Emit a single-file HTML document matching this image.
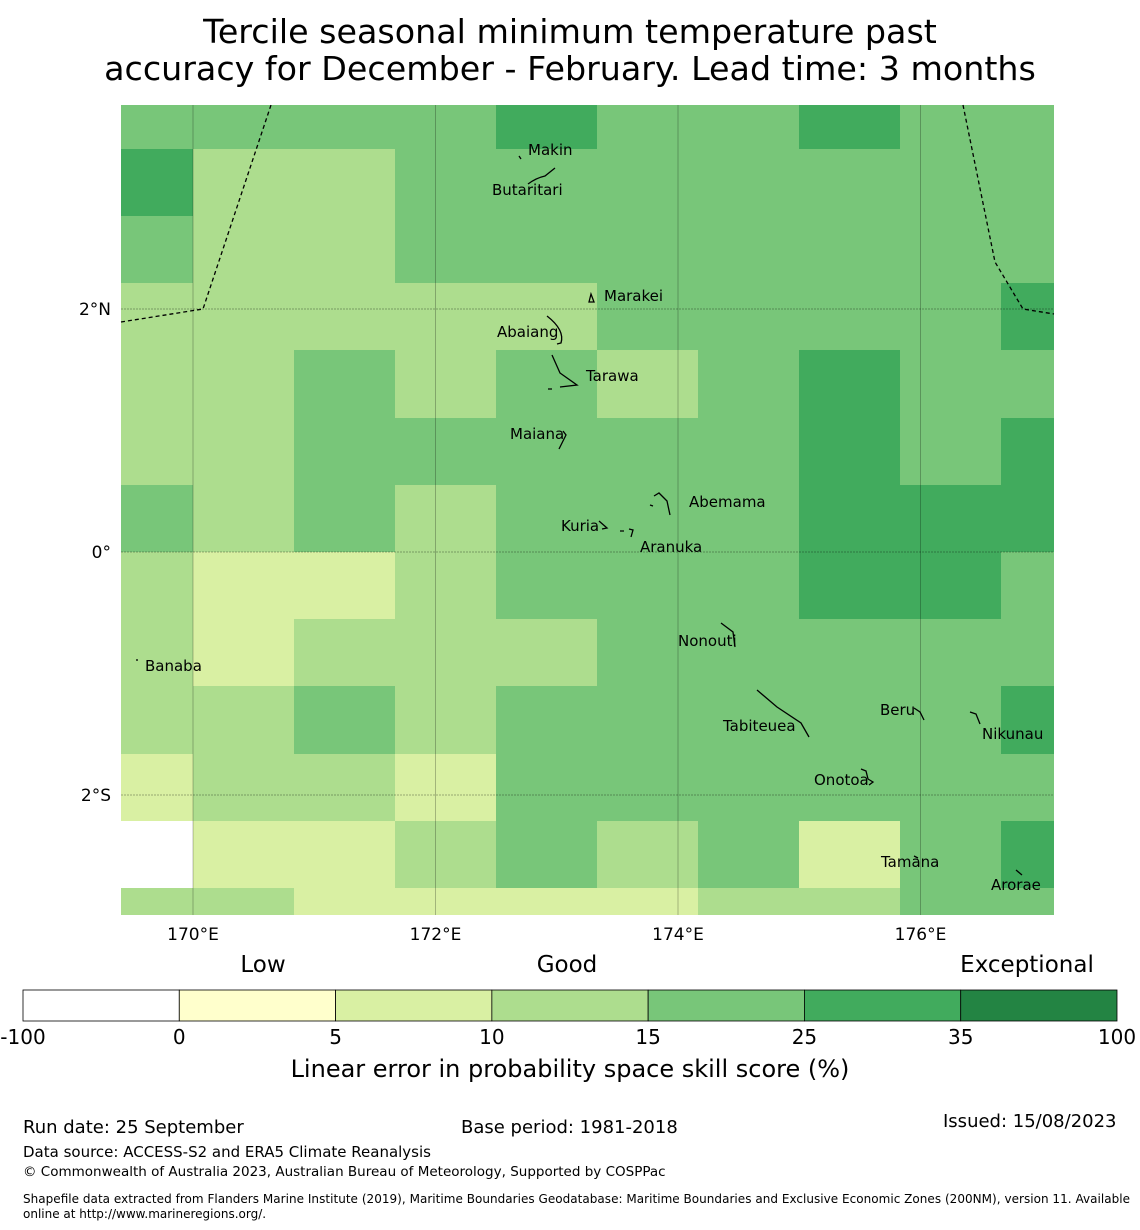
<!DOCTYPE html>
<html><head><meta charset="utf-8"><style>
body{margin:0;background:#fff;width:1140px;height:1230px;overflow:hidden;font-family:"DejaVu Sans","Liberation Sans",sans-serif;}
svg{position:absolute;left:0;top:0}
</style></head><body>
<svg id="s" width="1140" height="1230" xmlns="http://www.w3.org/2000/svg" font-family="DejaVu Sans, Liberation Sans, sans-serif">
<text x="570" y="43" font-size="33.3" text-anchor="middle">Tercile seasonal minimum temperature past</text>
<text x="570" y="80" font-size="33.3" text-anchor="middle">accuracy for December - February. Lead time: 3 months</text>
<g id="cells" shape-rendering="crispEdges"></g>
<g id="grid"></g>
<g id="bnd" fill="none" stroke="#000" stroke-width="1.3" stroke-dasharray="4,3">
<polyline points="121,322 203,309 271,105"/>
<polyline points="963,105 995,262 1023,309 1054,314"/>
</g>
<g id="isl" fill="none" stroke="#000" stroke-width="1.3">
<path d="M519,156 l2,3 M528,184 q8,-6 17,-8 l10,-8"/>
<path d="M589,302 l2,-8 l3,8 z"/>
<path d="M547,316 q18,14 14,27 l-4,1"/>
<path d="M552,355 l8,18 l17,12 l-17,2 M548,389 l4,0"/>
<path d="M563,431 l3,4 l-7,14"/>
<path d="M650,505 l3,1 M654,496 l5,-3 l8,8 l3,14"/>
<path d="M599,521 l8,7 l-5,1 M620,531 l4,0 M629,529 l4,1 l-2,7"/>
<path d="M721,623 l12,9 l2,15"/>
<path d="M757,690 l20,17 l24,16 l8,14"/>
<path d="M914,708 l6,4 l4,8"/>
<path d="M970,712 l6,2 l4,10"/>
<path d="M861,769 l5,2 l2,8 l5,3 l-4,3"/>
<path d="M914,856 l4,2 M1016,870 l6,5"/>
<path d="M136,660 l2,0"/>
</g>
<g font-size="15" fill="#000">
<text x="528" y="155">Makin</text><text x="492" y="195">Butaritari</text>
<text x="604" y="301">Marakei</text><text x="497" y="337">Abaiang</text>
<text x="586" y="381">Tarawa</text><text x="510" y="439">Maiana</text>
<text x="689" y="507">Abemama</text><text x="561" y="531">Kuria</text>
<text x="640" y="552">Aranuka</text><text x="678" y="646">Nonouti</text>
<text x="145" y="671">Banaba</text><text x="723" y="731">Tabiteuea</text>
<text x="880" y="715">Beru</text><text x="982" y="739">Nikunau</text>
<text x="814" y="785">Onotoa</text><text x="881" y="867">Tamana</text>
<text x="991" y="890">Arorae</text>
</g>
<g id="axes" font-size="17"></g>
<g font-size="23">
<text x="263" y="972" text-anchor="middle">Low</text>
<text x="567" y="972" text-anchor="middle">Good</text>
<text x="1027" y="972" text-anchor="middle">Exceptional</text>
</g>
<g id="cbar"></g>
<text x="570" y="1077" font-size="24" text-anchor="middle">Linear error in probability space skill score (%)</text>
<g font-size="18">
<text x="23" y="1133">Run date: 25 September</text>
<text x="461" y="1133">Base period: 1981-2018</text>
<text x="943" y="1127">Issued: 15/08/2023</text>
<text x="23" y="1157" font-size="15">Data source: ACCESS-S2 and ERA5 Climate Reanalysis</text>
<text x="23" y="1176" font-size="13.5">© Commonwealth of Australia 2023, Australian Bureau of Meteorology, Supported by COSPPac</text>
<text x="23" y="1203" font-size="12" textLength="1107">Shapefile data extracted from Flanders Marine Institute (2019), Maritime Boundaries Geodatabase: Maritime Boundaries and Exclusive Economic Zones (200NM), version 11. Available</text>
<text x="23" y="1218" font-size="12">online at http://www.marineregions.org/.</text>
</g>
</svg>
<script>
// data: skill score (%) per grid cell, rows north->south, cols west->east
const binEdges=[-100,0,5,10,15,25,35,100];
const binColors=['#ffffff','#ffffcc','#d9f0a3','#addd8e','#78c679','#41ab5d','#238443'];
const lonTicks=[170,172,174,176];
const latTicks=[2,0,-2];
const row0=[20,20,20,20,30,20,20,30,20,20];
const row1=[30,12,12,20,20,20,20,20,20,20];
const row2=[20,12,12,20,20,20,20,20,20,20];
const row3=[12,12,12,12,12,20,20,20,20,30];
const row4=[12,12,20,12,20,12,20,30,20,20];
const row5=[12,12,20,20,20,20,20,30,20,30];
const row6=[20,12,20,12,20,20,20,30,30,30];
const row7=[12,7,7,12,20,20,20,30,30,20];
const row8=[12,7,12,12,12,20,20,20,20,20];
const row9=[12,12,20,12,20,20,20,20,20,30];
const row10=[7,12,12,7,20,20,20,20,20,20];
const row11=[-5,7,7,12,20,12,20,7,20,30];
const row12=[12,12,7,7,7,7,12,12,20,20];
const values=[row0,row1,row2,row3,row4,row5,row6,row7,row8,row9,row10,row11,row12];
const NS='http://www.w3.org/2000/svg';
const L=121,R=1054,T=105,B=915;
const xS=lon=>193+(lon-170)*121.25;
const yS=lat=>552-lat*121.5;
const dLon=5/6,dLat=0.553;
const lon0=170-dLon, lat0=7*dLat;
function color(v){for(let i=0;i<binColors.length;i++){if(v<binEdges[i+1])return binColors[i];}return binColors[binColors.length-1];}
function mk(t,a,p){const e=document.createElementNS(NS,t);for(const k in a)e.setAttribute(k,a[k]);p.appendChild(e);return e;}
const cells=document.getElementById('cells');
values.forEach((row,r)=>{row.forEach((v,c)=>{
 let x0=Math.max(L,xS(lon0+c*dLon)),x1=Math.min(R,xS(lon0+(c+1)*dLon));
 let y0=Math.max(T,yS(lat0-r*dLat)),y1=Math.min(B,yS(lat0-(r+1)*dLat));
 if(c===0)x0=L; if(r===0)y0=T; if(c===row.length-1)x1=R; if(r===values.length-1)y1=B;
 x0=Math.round(x0);x1=Math.round(x1);y0=Math.round(y0);y1=Math.round(y1);
 const e=mk('rect',{x:x0,y:y0,width:x1-x0,height:y1-y0,fill:color(v)},cells);
 
 
});});
const g=document.getElementById('grid'),ax=document.getElementById('axes');
lonTicks.forEach(l=>{const x=xS(l);
 mk('line',{x1:x,x2:x,y1:T,y2:B,stroke:'#000','stroke-opacity':0.25,'stroke-width':1},g);
 const t=mk('text',{x:x,y:940,'text-anchor':'middle'},ax);t.textContent=l+'°E';
 
 });
latTicks.forEach(l=>{const y=yS(l);
 mk('line',{x1:L,x2:R,y1:y,y2:y,stroke:'#000','stroke-opacity':0.3,'stroke-width':1,'stroke-dasharray':'2,1'},g);
 const t=mk('text',{x:111,y:y+6,'text-anchor':'end'},ax);t.textContent=l===0?'0°':Math.abs(l)+'°'+(l>0?'N':'S');
 
 });
const cb=document.getElementById('cbar');const cw=(1117-23)/7;
binColors.forEach((c,i)=>{const e=mk('rect',{x:23+i*cw,y:990,width:cw,height:31,fill:c,stroke:'#000','stroke-width':0.8},cb);
 
 });
binEdges.forEach((b,i)=>{const t=mk('text',{x:23+i*cw,y:1044,'text-anchor':'middle','font-size':20},cb);t.textContent=b;
 
 });
</script>
</body></html>
